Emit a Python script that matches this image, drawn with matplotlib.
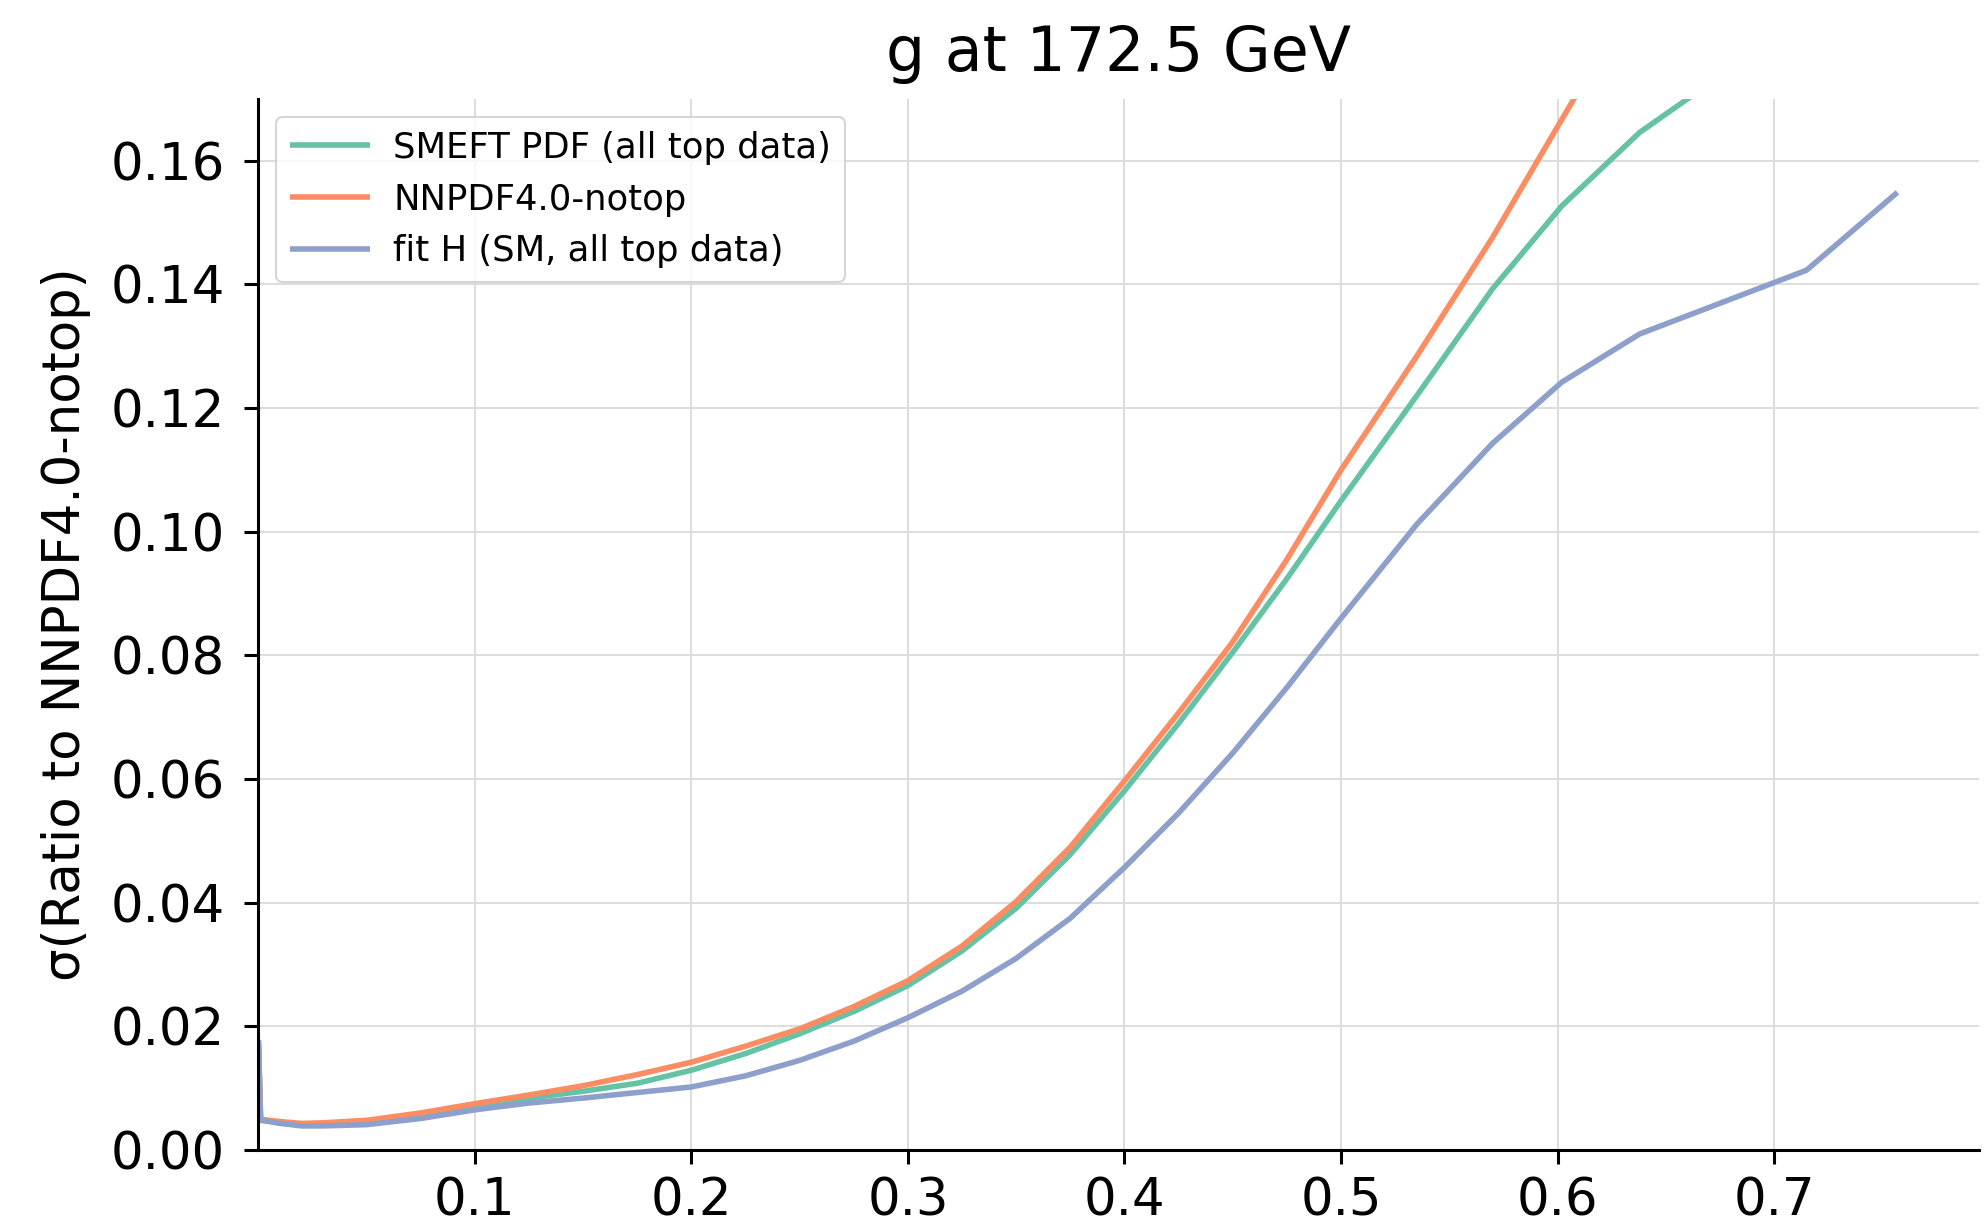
import matplotlib
matplotlib.use("Agg")
import matplotlib.pyplot as plt

# ---- data ----
x = [1e-5, 0.001, 0.005, 0.01, 0.02, 0.03, 0.05, 0.075, 0.1, 0.125, 0.15, 0.175,
     0.2, 0.225, 0.25, 0.275, 0.3, 0.325, 0.35, 0.375, 0.4, 0.425, 0.45, 0.475,
     0.5, 0.535, 0.570, 0.602, 0.638, 0.715, 0.757]

smeft_pdf = [0.0170, 0.0049, 0.0047, 0.0044, 0.0041, 0.0041, 0.0045, 0.0057, 0.0072,
             0.0084, 0.0095, 0.0108, 0.0129, 0.0156, 0.0188, 0.0224, 0.0266, 0.0322,
             0.0391, 0.0478, 0.0581, 0.0690, 0.0805, 0.0924, 0.1050, 0.1220, 0.1393,
             0.1527, 0.1646, 0.1835, 0.1950]

nnpdf_notop = [0.0178, 0.0050, 0.0048, 0.0046, 0.0043, 0.0044, 0.0048, 0.0060, 0.0075,
               0.0089, 0.0104, 0.0122, 0.0142, 0.0168, 0.0196, 0.0232, 0.0274, 0.0330,
               0.0402, 0.0490, 0.0597, 0.0707, 0.0822, 0.0955, 0.1100, 0.1284, 0.1476,
               0.1667, 0.1880, 0.2250, 0.2450]

fit_h = [0.0178, 0.0048, 0.0046, 0.0043, 0.0039, 0.0039, 0.0041, 0.0051, 0.0065,
         0.0076, 0.0084, 0.0093, 0.0102, 0.0120, 0.0145, 0.0176, 0.0214, 0.0257,
         0.0310, 0.0375, 0.0457, 0.0545, 0.0642, 0.0748, 0.0860, 0.1012, 0.1143,
         0.1242, 0.1320, 0.1423, 0.1549]

labels = ["SMEFT PDF (all top data)", "NNPDF4.0-notop", "fit H (SM, all top data)"]
colors = ["#66c2a5", "#fc8d62", "#8da0cb"]
title = "g at 172.5 GeV"
ylabel = "σ(Ratio to NNPDF4.0-notop)"
yticks = [0.00, 0.02, 0.04, 0.06, 0.08, 0.10, 0.12, 0.14, 0.16]
xticks = [0.1, 0.2, 0.3, 0.4, 0.5, 0.6, 0.7]

plt.rcParams['font.family'] = ['DejaVu Sans']

fig = plt.figure(figsize=(19.88, 12.31), dpi=100)
ax = fig.add_axes([0.130, 0.0658, 0.8655, 0.8538])

for ys, lab, c in zip([smeft_pdf, nnpdf_notop, fit_h], labels, colors):
    ax.plot(x, ys, color=c, lw=4.0, label=lab, solid_capstyle='butt')

ax.set_xlim(1e-5, 0.7947)
ax.set_ylim(0, 0.17)
ax.set_xticks(xticks)
ax.set_xticklabels([f"{v:.1f}" for v in xticks])
ax.set_yticks(yticks)
ax.set_yticklabels([f"{v:.2f}" for v in yticks])

ax.grid(True, color="#dddddd", lw=1.4)
ax.set_axisbelow(True)
for s in ["top", "right"]:
    ax.spines[s].set_visible(False)
for s in ["left", "bottom"]:
    ax.spines[s].set_linewidth(2.2)
    ax.spines[s].set_color("black")
ax.tick_params(axis="both", which="major", labelsize=37, length=10, width=2.2,
               direction="out")
ax.tick_params(axis="y", pad=14)
ax.tick_params(axis="x", pad=9)

ax.set_title(title, fontsize=44.5, pad=20)
ax.set_ylabel(ylabel, fontsize=37, labelpad=14)

leg = ax.legend(loc="upper left", fontsize=25.5, frameon=True, fancybox=True,
                handlelength=2.25, handletextpad=0.65, borderaxespad=0.5,
                labelspacing=0.5, bbox_to_anchor=(0.0, 1.0))
leg.get_frame().set_edgecolor("#cccccc")
leg.get_frame().set_linewidth(1.5)

fig.savefig("out.png", dpi=100)
